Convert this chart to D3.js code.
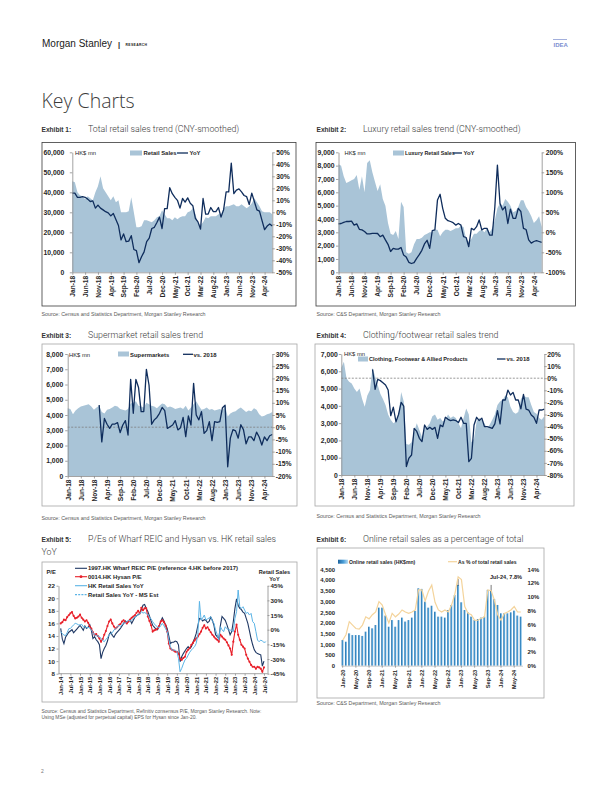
<!DOCTYPE html>
<html>
<head>
<meta charset="utf-8">
<script src="https://cdn.jsdelivr.net/npm/d3@7"></script>
<style>
  body { margin: 0; background: #fff; }
  svg { display: block; font-family: "Liberation Sans", Arial, sans-serif; }
</style>
</head>
<body>
<script>
// ---------- data ----------
const ticks18 = ["Jan-18","Jun-18","Nov-18","Apr-19","Sep-19","Feb-20","Jul-20","Dec-20","May-21","Oct-21","Mar-22","Aug-22","Jan-23","Jun-23","Nov-23","Apr-24"];

// Exhibit 1: total retail sales (HK$ mn) and YoY %
const ex1Sales = [45500,45000,40000,38500,38000,36500,38000,37000,36000,40000,43000,48000,
  42000,40000,38000,36000,38000,35000,36000,30000,30000,30000,30500,37500,
  30000,22500,22500,23000,26000,26000,25500,25000,26000,27500,28000,31000,
  29000,27000,27000,26000,27500,26500,27500,28000,28000,30000,30500,32000,
  29000,25000,23500,25000,27500,27000,28000,28000,28000,29000,29000,32000,
  33000,33000,33500,34000,33000,33000,34000,33000,32000,33000,34500,37000,
  35000,33000,30500,30000,30000,30000,29000];
const ex1YoY = [16,16,12.5,12.5,13,12.5,11,9,9.5,3.5,6,3.5,
  2,0.5,-0.5,-3,-1,-6,-11,-23,-18,-24.5,-24,-19.5,
  -31,-32,-42,-37,-33,-24.5,-21.5,-13.5,-12.5,-8.5,-4,-13.5,
  3,3,20.5,15.5,12.5,10,3.5,11.5,8.5,12,7.5,5.5,
  -5,-8,-14,11.5,-1.5,-1.5,4,0.5,0.5,4,-4,2,
  17,17,41,15.5,18.5,19.5,17,14,13,6.5,16,9,
  2,1,-7,-14.5,-11.5,-9.7,-11.5];

// Exhibit 2: luxury retail sales (HK$ mn) and YoY %
const ex2Sales = [8100,8000,7200,6700,6800,6900,7000,7300,6200,7200,6000,8200,
  8400,7500,6800,6100,6600,5500,5000,3700,2900,2800,3100,2500,
  5300,4900,1500,1400,1500,2100,2500,2500,2600,2800,2900,3000,
  3000,3200,3200,2700,3000,3200,3200,3100,3200,3300,3300,3500,
  3400,2500,2300,2500,2900,2900,3100,3200,3000,3300,3000,3300,
  3900,4800,5200,5000,5500,5300,5000,4500,4600,4900,5400,5400,
  4900,4600,4200,3700,3900,4200,3400];
const ex2YoY = [21,22,25,27,27,28,18,21,7.5,6,2,-4,
  -4,-2.5,-2.5,-3,-11,-7,-19,-30,-48,-40,-42,-42,
  -38,-57,-62,-75,-78,-76,-65,-56,-45,-29,-20,-40,
  4,6,81,95,60,35,29,27,24,18,22,18,
  -11,-13,-36,10,6,14,31,6,10,10,-7,-7,
  62,168,72,56,64,22,58,35,35,60,52,10,
  7,-19,-27,-23,-21,-23,-25];

// Exhibit 3: supermarket sales (HK$ mn) and % vs 2018
const ex3Sales = [4450,4400,4050,4300,4450,4550,4600,4650,4700,4550,4350,4500,
  4600,4200,4100,4350,4400,4500,4600,4550,4400,4350,4300,4400,
  4750,4800,4900,4600,4550,4500,4800,4700,4600,4550,4450,4600,
  4750,4700,4500,4550,4500,4400,4450,4500,4400,4600,4300,4500,
  4700,4900,4600,4350,4400,4500,4350,4400,4300,4350,4400,4300,
  4600,3900,4100,4200,4250,4400,4500,4350,4200,4300,4250,4450,
  4350,4050,3900,3950,4050,4100,4200];
const ex3Vs2018 = [null,null,null,null,null,null,null,null,null,null,null,null,
  9.1,-6,3.6,1.2,-0.5,1.3,1.3,1.9,-2.2,0.9,2.7,-3.2,
  19.6,5.7,19.6,16.3,6.4,6.4,23.7,17.3,1.2,3,4,5.7,
  8.1,6.8,-0.5,0.2,0.9,2.7,-1.1,-0.2,4,-3.9,4.6,0.9,
  18,5,3,6.4,-2.5,-1.4,2.3,-5.5,2.3,2,2.3,8,
  9,-16.2,-4.5,-1,-1.5,-4.5,1,-1,-6.8,-4,-4,-5.5,
  -2,-4,-7.3,-4,-5.5,-3.5,-3];

// Exhibit 4: clothing/footwear sales (HK$ mn) and % vs 2018
const ex4Sales = [6200,6550,5600,5400,5300,5000,4800,5000,4400,3950,4600,4900,
  6200,5700,5200,4700,4400,4050,3500,3200,3000,3100,3500,4800,
  4250,1800,1750,1900,2500,3000,2600,2200,2700,2800,3000,3400,
  3500,3200,3300,3100,3200,3500,3300,3400,3300,3000,2700,3300,
  3850,3500,1900,2100,3100,3300,3200,3000,2700,2900,3200,3500,
  4050,4250,4350,4600,4500,3950,3650,3550,3650,4400,4600,4500,
  4500,4050,3650,3550,3300,3200,3400];
const ex4Vs2018 = [null,null,null,null,null,null,null,null,null,null,null,null,
  7.3,-9.2,-0.9,-2,-3.7,-5.6,-9.8,-31,-24,-36,-30,-20,
  -23,-73,-66,-63.5,-41.5,-44,-49.7,-52.4,-38.7,-42.3,-40.6,-42.3,
  -40.6,-49.7,-38.7,-40,-32.3,-34,-35,-34.5,-35,-36.7,-32.3,-37.3,
  -37.3,-69,-66.2,-38.7,-32.3,-35,-33,-40,-40,-40.6,-41.5,-37.8,
  -26.8,-37.8,-18,-18,-9.8,-13.9,-11.7,-18,-18,-25.4,-13.3,-25.6,
  -26.3,-30.4,-32.3,-37.3,-26.3,-26.3,-25.6];

// Exhibit 5: P/E (left) and retail sales YoY % (right), Jan-14 .. Jul-24
const ex5Ticks = ["Jan-14","Jul-14","Jan-15","Jul-15","Jan-16","Jul-16","Jan-17","Jul-17","Jan-18","Jul-18","Jan-19","Jul-19","Jan-20","Jul-20","Jan-21","Jul-21","Jan-22","Jul-22","Jan-23","Jul-23","Jan-24","Jul-24"];
const ex5Wharf = [15.2,13.5,12.8,13.8,14.2,14.6,14.8,15.0,14.5,14.8,15.1,15.4,
  15.7,15.3,14.9,15.6,15.2,15.4,15.8,14.9,13.6,13.9,13.4,13.1,
  12.6,10.4,11.4,12.0,12.5,13.2,14.2,14.6,14.1,13.8,14.3,14.6,
  14.9,15.2,15.6,16.0,16.4,16.2,16.3,16.6,16.0,16.5,17.0,17.2,
  17.4,17.6,18.2,18.9,19.0,18.4,17.9,17.2,16.4,15.7,15.4,15.1,
  15.0,15.6,16.3,16.9,16.4,15.8,15.2,14.0,12.8,13.0,13.0,13.2,
  13.1,12.6,9.9,10.7,11.2,11.6,12.0,12.3,12.0,12.3,13.0,13.6,
  14.4,15.6,16.8,16.7,16.4,16.6,16.5,16.1,16.3,17.0,16.5,15.7,
  14.2,13.9,13.6,15.7,17.1,16.8,16.5,15.8,15.0,14.2,14.7,16.3,
  18.4,19.9,18.9,18.4,18.2,17.8,17.6,16.8,16.0,14.8,13.6,12.6,
  11.8,11.4,11.2,11.1,11.0,9.2,10.0];
const ex5Hysan = [16.0,16.2,16.6,16.5,17.0,17.3,17.6,17.8,17.2,16.8,16.9,17.1,
  17.4,16.9,16.6,16.3,16.5,16.1,15.5,15.2,14.6,14.2,14.3,14.0,
  13.6,13.1,13.5,14.2,14.8,15.6,16.3,16.6,16.0,15.5,15.2,15.4,
  15.7,15.9,16.3,16.5,16.2,16.0,16.3,16.6,16.9,17.1,17.3,17.7,
  18.0,17.6,18.5,18.1,18.4,18.4,17.1,16.4,15.7,14.7,14.9,15.0,
  15.2,15.6,16.3,16.5,16.2,15.7,14.7,12.8,12.0,11.8,11.7,11.5,
  11.5,11.2,10.4,10.2,10.5,10.7,11.5,11.8,12.1,12.6,12.9,13.3,
  13.6,13.9,14.3,14.7,15.3,15.7,15.2,15.4,15.0,14.6,14.2,13.9,
  13.6,13.4,13.1,14.2,13.9,13.6,13.4,13.0,12.5,12.0,11.0,13.1,
  14.7,15.8,14.2,13.4,12.6,12.3,12.0,11.0,10.4,9.9,9.4,9.1,
  9.1,8.8,9.1,9.0,8.8,8.3,9.0];
const ex5Retail = [-2,-4,-5.5,-6,-3,1,1.4,3,5,6.5,6,5,
  4.8,5.5,3,3,2,2.5,1.4,0,-3,-5.5,-6,-6.5,
  -7,-9,-11,-12.3,-10,-8,-5.5,-4,-3,-0.3,1,2,
  4.8,3.5,5,6.5,7,8,9.9,9,10,11.6,13,14,
  15,16,18.4,17,17.5,16.7,15,13,11,8.2,6,4,
  3,2,4,6.5,4,1,-2,-10,-17.4,-20.8,-21,-20.8,
  -22.5,-29.3,-43,-39.6,-35,-31,-29.3,-26,-23,-20.8,-19,-17.4,
  -14,-5,29,9.9,12,15,9.9,11,12,13.3,9,6.5,
  -0.3,-5,-10.6,3,0,-2,3,1,0,-0.3,-1,-2,
  11.6,18.4,40.6,23.5,21.8,23.5,20.1,16.7,17.7,15,16.7,8.2,
  6.5,-2,-10.6,-12.3,-10.6,-11.6,-13];
const ex5EstCats = ["Jul-24","Aug-24","Sep-24"];
const ex5Est = [-13,-12.5,-11.5];

// Exhibit 6: online retail sales (HK$ mn) and share of total (%), Jan-20 .. Jul-24
const ex6Ticks = ["Jan-20","May-20","Sep-20","Jan-21","May-21","Sep-21","Jan-22","May-22","Sep-22","Jan-23","May-23","Sep-23","Jan-24","May-24"];
const ex6Online = [1200,1120,1510,1430,1430,1430,1390,1590,1820,1745,1900,2710,
  2710,2340,1820,2130,1820,2130,2245,2060,2130,2245,2555,3615,
  3585,2990,2710,2800,2520,2290,2290,2245,2600,2835,3300,3770,
  2960,2600,2490,2290,2130,2180,2245,2290,3540,3490,3115,2835,
  2445,2445,2445,2490,2570,2340,2290];
const ex6Share = [3.7,4.5,6.4,5.9,5.4,5.3,5.9,7.1,6.8,7.4,7.8,9.3,
  8.8,7.4,6.2,7.6,7.1,7.5,8.1,7.8,7.6,7.8,8.1,11.0,
  11.0,9.4,10.8,11.7,9.2,8.1,7.8,8.1,7.8,8.8,10.4,12.9,
  12.5,8.6,7.6,7.4,6.6,6.6,6.9,7.1,11.0,10.9,9.5,7.4,
  6.6,7.6,7.8,8.1,8.6,7.8,7.8];

// ---------- drawing ----------
const AREA = "#a9c4d7", NAVY = "#0f2d5c", FONT = "Liberation Sans, Arial, sans-serif";
const svg = d3.select("body").append("svg").attr("width", 612).attr("height", 792);

function monthCats(y, m, n) {
  const f = d3.timeFormat("%b-%y");
  return d3.range(n).map(i => f(new Date(y, m + i, 1)));
}
const m18 = monthCats(2018, 0, 79);
const m14 = monthCats(2014, 0, 129);
const m20 = monthCats(2020, 0, 55);

function txt(x, y, t, size, opt) {
  opt = opt || {};
  return svg.append("text").attr("x", x).attr("y", y).text(t)
    .attr("font-size", size)
    .attr("font-weight", opt.w || "normal")
    .attr("font-family", opt.f || FONT)
    .attr("fill", opt.c || "#262626")
    .attr("text-anchor", opt.a || "start");
}

function styleAxis(g, size, noDomain) {
  g.attr("font-size", size).attr("font-family", FONT);
  g.select(".domain").attr("stroke", noDomain ? "none" : "#8c8c8c").attr("stroke-width", 0.8);
  g.selectAll(".tick line").attr("stroke", "#8c8c8c").attr("stroke-width", 0.8);
  g.selectAll(".tick text").attr("fill", "#262626").attr("font-weight", "bold");
}
function rotateX(g, off) {
  g.selectAll(".tick text").attr("transform", "rotate(-90)")
    .attr("x", -off).attr("y", 0).attr("dy", "0.35em").attr("text-anchor", "end");
}

function box(x0, y0, x1, y1, col) {
  svg.append("rect").attr("x", x0).attr("y", y0).attr("width", x1 - x0).attr("height", y1 - y0)
    .attr("fill", "none").attr("stroke", col).attr("stroke-width", 0.8);
}

const TITLE_F = "Roboto, sans-serif";
function exTitle(x, y, n, t) {
  txt(x, y, "Exhibit " + n + ":", 6.6, { w: "bold", c: "#333" });
  txt(x + 46.5, y, t, 8.8, { f: TITLE_F, c: "#3a3a3a", w: 300 });
}

function dualChart(c) {
  const x = d3.scalePoint().domain(c.cats).range([c.x0, c.x1]);
  const yL = d3.scaleLinear().domain(c.lDom).range([c.yB, c.yT]);
  const yR = d3.scaleLinear().domain(c.rDom).range([c.yB, c.yT]);
  const px = (d, i) => x(c.cats[i]);

  svg.append("path").datum(c.area).attr("fill", AREA)
    .attr("d", d3.area().x(px).y0(yL(0)).y1(d => yL(d)));
  if (c.zero) {
    svg.append("line").attr("x1", c.x0).attr("x2", c.x1).attr("y1", yR(0)).attr("y2", yR(0))
      .attr("stroke", "#7f7f7f").attr("stroke-width", 0.8).attr("stroke-dasharray", "2,1.5");
  }
  svg.append("path").datum(c.line).attr("fill", "none").attr("stroke", NAVY)
    .attr("stroke-width", 1.3).attr("stroke-linejoin", "round")
    .attr("d", d3.line().defined(d => d != null).x(px).y(d => yR(d)));

  const gl = svg.append("g").attr("transform", `translate(${c.x0},0)`)
    .call(d3.axisLeft(yL).tickValues(d3.range(c.lDom[0], c.lDom[1] + 1e-9, c.lStep))
      .tickFormat(d3.format(",")).tickSize(2.5).tickSizeOuter(0).tickPadding(c.pl));
  styleAxis(gl, 6.8);
  const gr = svg.append("g").attr("transform", `translate(${c.x1},0)`)
    .call(d3.axisRight(yR).tickValues(d3.range(c.rDom[0], c.rDom[1] + 1e-9, c.rStep))
      .tickFormat(d => d + "%").tickSize(2.5).tickSizeOuter(0).tickPadding(c.pr));
  styleAxis(gr, 6.8);
  const gb = svg.append("g").attr("transform", `translate(0,${c.yB})`)
    .call(d3.axisBottom(x).tickValues(ticks18).tickSize(2.5).tickSizeOuter(0));
  styleAxis(gb, 6.6);
  rotateX(gb, 3.5);
}

// header
txt(42, 47, "Morgan Stanley", 10, { c: "#1a1a1a" });
txt(118, 47, "|", 7.5, { w: "bold", c: "#1a1a1a" });
txt(125.5, 46, "RESEARCH", 3.4, { w: "bold", c: "#1a1a1a" }).attr("letter-spacing", 0.35);
svg.append("line").attr("x1", 553).attr("x2", 567).attr("y1", 39.5).attr("y2", 39.5)
  .attr("stroke", "#8a9bd3").attr("stroke-width", 0.8);
txt(553.5, 47, "IDEA", 6, { w: "bold", c: "#7b8ed0" });

txt(41.5, 107.5, "Key Charts", 19.5, { f: "'Open Sans', Lato, sans-serif", c: "#3b3b3b", w: 300 });

// ---------- Exhibit 1 ----------
exTitle(41.5, 131.5, 1, "Total retail sales trend (CNY-smoothed)");
box(42, 142.5, 296, 306, "#3a3a3a");
dualChart({ cats: m18, x0: 72.3, x1: 272.3, yT: 152.3, yB: 272.3,
  lDom: [0, 60000], lStep: 10000, rDom: [-50, 50], rStep: 10, pl: 5.5, pr: 1.5,
  area: ex1Sales, line: ex1YoY });
txt(75, 155.3, "HK$ mn", 5.8);
svg.append("rect").attr("x", 130).attr("y", 150.5).attr("width", 12).attr("height", 5).attr("fill", AREA);
txt(143.5, 155.3, "Retail Sales", 5.9, { w: "bold" });
svg.append("line").attr("x1", 177).attr("x2", 188).attr("y1", 153).attr("y2", 153).attr("stroke", NAVY).attr("stroke-width", 1.3);
txt(189.5, 155.3, "YoY", 5.9, { w: "bold" });
txt(41.5, 315.5, "Source: Census and Statistics Department, Morgan Stanley Research", 5.3, { c: "#595959" });

// ---------- Exhibit 2 ----------
exTitle(316.5, 131.5, 2, "Luxury retail sales trend (CNY-smoothed)");
box(316, 142.5, 575.5, 306, "#3a3a3a");
dualChart({ cats: m18, x0: 338.5, x1: 541.7, yT: 152.3, yB: 272.3,
  lDom: [0, 9000], lStep: 1000, rDom: [-100, 200], rStep: 50, pl: 1.5, pr: 1.5,
  area: ex2Sales, line: ex2YoY });
txt(344.5, 155.3, "HK$ mn", 5.8);
svg.append("rect").attr("x", 393).attr("y", 150.5).attr("width", 11).attr("height", 5).attr("fill", AREA);
txt(405, 155.3, "Luxury Retail Sales", 5.4, { w: "bold" });
svg.append("line").attr("x1", 453).attr("x2", 462).attr("y1", 153).attr("y2", 153).attr("stroke", NAVY).attr("stroke-width", 1.3);
txt(463.5, 155.3, "YoY", 5.9, { w: "bold" });
txt(316.5, 315.5, "Source: C&S Department, Morgan Stanley Research", 5.3, { c: "#595959" });

// ---------- Exhibit 3 ----------
exTitle(41.5, 337.5, 3, "Supermarket retail sales trend");
box(42, 344, 297, 506, "#a6a6a6");
dualChart({ cats: m18, x0: 67.7, x1: 272.3, yT: 354, yB: 476,
  lDom: [0, 8000], lStep: 1000, rDom: [-20, 30], rStep: 5, pl: 2, pr: 1,
  area: ex3Sales, line: ex3Vs2018, zero: true });
txt(69, 357, "HK$ mn", 5.8);
svg.append("rect").attr("x", 118).attr("y", 351.5).attr("width", 11).attr("height", 5).attr("fill", AREA);
txt(130, 356.6, "Supermarkets", 5.9, { w: "bold" });
svg.append("line").attr("x1", 183).attr("x2", 193).attr("y1", 354.3).attr("y2", 354.3).attr("stroke", NAVY).attr("stroke-width", 1.3);
txt(193.5, 356.6, "vs. 2018", 5.9, { w: "bold" });
txt(41.5, 519.5, "Source: Census and Statistics Department, Morgan Stanley Research", 5.3, { c: "#595959" });

// ---------- Exhibit 4 ----------
exTitle(316.5, 337.5, 4, "Clothing/footwear retail sales trend");
box(315, 344, 574, 506, "#a6a6a6");
dualChart({ cats: m18, x0: 341.3, x1: 544.3, yT: 354, yB: 475,
  lDom: [0, 7000], lStep: 1000, rDom: [-80, 20], rStep: 10, pl: 1, pr: 0.5,
  area: ex4Sales, line: ex4Vs2018, zero: true });
txt(344, 356.3, "HK$ mn", 5.8);
svg.append("rect").attr("x", 358).attr("y", 356.5).attr("width", 10).attr("height", 5).attr("fill", AREA);
txt(369, 361.3, "Clothing, Footwear & Allied Products", 5.6, { w: "bold" });
svg.append("line").attr("x1", 497).attr("x2", 505.5).attr("y1", 359).attr("y2", 359).attr("stroke", NAVY).attr("stroke-width", 1.3);
txt(506.5, 361.3, "vs. 2018", 5.9, { w: "bold" });
txt(316.5, 517.5, "Source: Census and Statistics Department, Morgan Stanley Research", 5.3, { c: "#595959" });

// ---------- Exhibit 5 ----------
txt(41.5, 542.3, "Exhibit 5:", 6.6, { w: "bold", c: "#333" });
txt(88, 542.3, "P/Es of Wharf REIC and Hysan vs. HK retail sales", 8.8, { f: TITLE_F, c: "#3a3a3a", w: 300 });
txt(41.5, 555.2, "YoY", 8.8, { f: TITLE_F, c: "#3a3a3a", w: 300 });
box(42, 562, 297, 702, "#a6a6a6");
(function () {
  const x = d3.scalePoint().domain(m14).range([60.7, 267.2]);
  const yT = 585.7, yB = 673.7;
  const yL = d3.scaleLinear().domain([8, 22]).range([yB, yT]);
  const yR = d3.scaleLinear().domain([-45, 45]).range([yB, yT]);
  const px = (d, i) => x(m14[i]);
  const RED = "#e8202a", LB = "#5bb4e6";

  svg.append("path").datum(ex5Wharf).attr("fill", "none").attr("stroke", "#1f3864").attr("stroke-width", 1.1)
    .attr("d", d3.line().x(px).y(d => yL(d)));
  svg.append("path").datum(ex5Hysan).attr("fill", "none").attr("stroke", RED).attr("stroke-width", 1.1)
    .attr("d", d3.line().x(px).y(d => yL(d)));
  svg.selectAll(".hy").data(ex5Hysan).join("circle").attr("cx", px).attr("cy", d => yL(d))
    .attr("r", 1.05).attr("fill", RED);
  svg.append("path").datum(ex5Retail).attr("fill", "none").attr("stroke", LB).attr("stroke-width", 1)
    .attr("d", d3.line().x(px).y(d => yR(d)));
  svg.append("path").datum(ex5Est).attr("fill", "none").attr("stroke", LB).attr("stroke-width", 1)
    .attr("stroke-dasharray", "2,1.2")
    .attr("d", d3.line().x((d, i) => x(ex5EstCats[i])).y(d => yR(d)));

  const gl = svg.append("g").attr("transform", "translate(58.5,0)")
    .call(d3.axisLeft(yL).tickValues(d3.range(8, 23, 2)).tickSize(2).tickSizeOuter(0).tickPadding(1.5));
  styleAxis(gl, 6.2);
  const gr = svg.append("g").attr("transform", "translate(267.5,0)")
    .call(d3.axisRight(yR).tickValues(d3.range(-45, 46, 15)).tickFormat(d => d + "%").tickSize(2).tickSizeOuter(0).tickPadding(1));
  styleAxis(gr, 6.2);
  const gb = svg.append("g").attr("transform", `translate(0,${yB})`)
    .call(d3.axisBottom(x).tickValues(ex5Ticks).tickSize(2).tickSizeOuter(0));
  gb.select(".domain").attr("d", "M58.5,0H267.5");
  styleAxis(gb, 5.8);
  rotateX(gb, 3);

  txt(46.5, 573.5, "P/E", 5.8, { w: "bold" });
  txt(274.5, 573.5, "Retail Sales", 5.6, { w: "bold", a: "middle" });
  txt(274.5, 581, "YoY", 5.6, { w: "bold", a: "middle" });

  const leg = [
    ["1997.HK Wharf REIC P/E (reference 4.HK before 2017)", "#1f3864", null, false],
    ["0014.HK Hysan P/E", RED, null, true],
    ["HK Retail Sales YoY", LB, null, false],
    ["Retail Sales YoY - MS Est", LB, "2,1.2", false]
  ];
  const ly = [568.3, 576.7, 585.7, 594.6];
  leg.forEach((l, i) => {
    svg.append("line").attr("x1", 75).attr("x2", 87).attr("y1", ly[i]).attr("y2", ly[i])
      .attr("stroke", l[1]).attr("stroke-width", 1.1).attr("stroke-dasharray", l[2]);
    if (l[3]) svg.append("circle").attr("cx", 81).attr("cy", ly[i]).attr("r", 1.4).attr("fill", l[1]);
    txt(88, ly[i] + 2, l[0], 5.9, { w: "bold" });
  });
})();
txt(41.5, 712.5, "Source: Census and Statistics Department, Refinitiv consensus P/E, Morgan Stanley Research. Note:", 4.9, { c: "#595959" });
txt(41.5, 718.8, "Using MSe (adjusted for perpetual capital) EPS for Hysan since Jan-20.", 4.9, { c: "#595959" });

// ---------- Exhibit 6 ----------
exTitle(316.5, 541.7, 6, "Online retail sales as a percentage of total");
box(317, 548, 544, 698, "#a6a6a6");
(function () {
  const defs = svg.append("defs");
  const gr = defs.append("linearGradient").attr("id", "barGrad").attr("x1", 0).attr("x2", 1).attr("y1", 0).attr("y2", 0);
  gr.append("stop").attr("offset", "0%").attr("stop-color", "#1c649e");
  gr.append("stop").attr("offset", "55%").attr("stop-color", "#4c9fd8");
  gr.append("stop").attr("offset", "100%").attr("stop-color", "#b9dcf2");

  const yT = 569.3, yB = 665.7;
  const x = d3.scaleBand().domain(m20).range([341, 522.5]).paddingInner(0.38).paddingOuter(0.2);
  const yL = d3.scaleLinear().domain([0, 4500]).range([yB, yT]);
  const yR = d3.scaleLinear().domain([0, 14]).range([yB, yT]);
  const cx = (d, i) => x(m20[i]) + x.bandwidth() / 2;

  svg.selectAll(".bar6").data(ex6Online).join("rect")
    .attr("x", (d, i) => x(m20[i])).attr("width", x.bandwidth())
    .attr("y", d => yL(d)).attr("height", d => yB - yL(d))
    .attr("fill", "url(#barGrad)");
  [35, 45].forEach(i => {
    svg.append("line").attr("x1", cx(0, i)).attr("x2", cx(0, i))
      .attr("y1", yL(ex6Online[i]) - 6).attr("y2", yL(ex6Online[i]) + 1)
      .attr("stroke", "#222").attr("stroke-width", 0.6);
  });
  svg.append("path").datum(ex6Share).attr("fill", "none").attr("stroke", "#f4d49c").attr("stroke-width", 1.2)
    .attr("d", d3.line().x(cx).y(d => yR(d)));

  const gl = svg.append("g").attr("transform", "translate(341,0)")
    .call(d3.axisLeft(yL).tickValues(d3.range(0, 4501, 500)).tickFormat(d3.format(",")).tickSize(0).tickPadding(6));
  styleAxis(gl, 5.9, true);
  const grr = svg.append("g").attr("transform", "translate(522.5,0)")
    .call(d3.axisRight(yR).tickValues(d3.range(0, 15, 2)).tickFormat(d => d + "%").tickSize(0).tickPadding(5));
  styleAxis(grr, 5.9, true);
  const gb = svg.append("g").attr("transform", `translate(0,${yB})`)
    .call(d3.axisBottom(x).tickValues(ex6Ticks).tickSize(2).tickSizeOuter(0));
  styleAxis(gb, 5.7);
  gb.select(".domain").attr("stroke", "#bfbfbf");
  rotateX(gb, 4);

  svg.append("rect").attr("x", 338).attr("y", 559.7).attr("width", 10).attr("height", 4).attr("fill", "url(#barGrad)");
  txt(349, 563.6, "Online retail sales (HK$mn)", 5.1, { w: "bold" });
  svg.append("line").attr("x1", 448).attr("x2", 457).attr("y1", 561.7).attr("y2", 561.7).attr("stroke", "#f4d49c").attr("stroke-width", 1.2);
  txt(458, 563.6, "As % of total retail sales", 5.1, { w: "bold" });
  txt(490, 579, "Jul-24, 7.8%", 5.6, { w: "bold" });
})();
txt(316.5, 705, "Source: C&S Department, Morgan Stanley Research", 5.3, { c: "#595959" });

// page number
txt(41, 772.5, "2", 5, { c: "#777" });
</script>
</body>
</html>
